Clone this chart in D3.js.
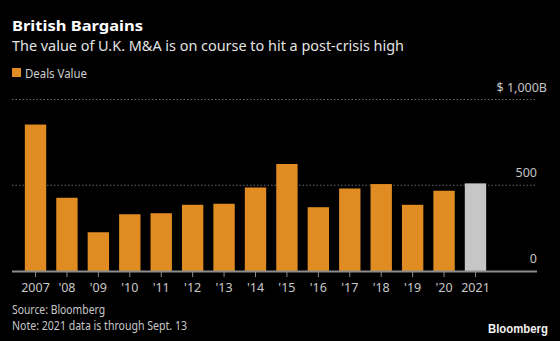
<!DOCTYPE html>
<html>
<head>
<meta charset="utf-8">
<script src="https://cdn.jsdelivr.net/npm/d3@7"></script>
<style>
  html, body { margin: 0; padding: 0; background: #000; }
  svg { display: block; font-family: "Noto Sans", "Open Sans", sans-serif; }
</style>
</head>
<body>
<div id="chart"></div>
<script>
const years = ["2007", "'08", "'09", "'10", "'11", "'12", "'13", "'14", "'15", "'16", "'17", "'18", "'19", "'20", "2021"];
const dealsValue = [854, 427, 226, 331, 337, 386, 392, 487, 624, 372, 481, 507, 386, 468, 511];
const yTicks = [0, 500, 1000];
const yTickLabels = ["0", "500", "$ 1,000B"];

const width = 560, height = 341;
const orange = "#e08c22", grey2021 = "#c6c6c6";

const svg = d3.select("#chart").append("svg")
  .attr("width", width).attr("height", height);

svg.append("rect").attr("width", width).attr("height", height).attr("fill", "#000");

// header
const fit = (sel, w) => sel.attr("textLength", w).attr("lengthAdjust", "spacingAndGlyphs");
svg.append("text").attr("x", 12).attr("y", 30.5)
  .attr("fill", "#fff").attr("font-weight", 700).attr("font-size", 15)
  .text("British Bargains").call(fit, 131);
svg.append("text").attr("x", 12).attr("y", 50.5)
  .attr("fill", "#e4e4e4").attr("font-size", 15)
  .text("The value of U.K. M&A is on course to hit a post-crisis high").call(fit, 392);

// legend
svg.append("rect").attr("x", 12).attr("y", 68).attr("width", 9).attr("height", 9).attr("fill", orange);
svg.append("text").attr("x", 25).attr("y", 77.5)
  .attr("fill", "#cfcfcf").attr("font-size", 13)
  .text("Deals Value").call(fit, 62);

const x = d3.scaleBand()
  .domain(years)
  .range([19.8, 491.2])
  .paddingInner(0.32)
  .paddingOuter(0.16);

const y = d3.scaleLinear().domain([0, 1000]).range([271, 99.5]);

// gridlines
svg.append("g").selectAll("line")
  .data(yTicks.filter((d) => d > 0))
  .join("line")
  .attr("x1", 12).attr("x2", 537)
  .attr("y1", (d) => y(d)).attr("y2", (d) => y(d))
  .attr("stroke", "#6a6a6a").attr("stroke-width", 1)
  .attr("stroke-dasharray", "1.5,2");

// y labels (unit suffix hangs past the axis end)
svg.append("g").selectAll("text")
  .data(yTicks)
  .join("text")
  .attr("x", (d) => (d === 1000 ? 547 : 537))
  .attr("y", (d) => y(d) - 8)
  .attr("text-anchor", "end")
  .attr("fill", "#c4c4c4").attr("font-size", 12.5)
  .text((d, i) => yTickLabels[i]);

// bars
svg.append("g").selectAll("rect")
  .data(dealsValue)
  .join("rect")
  .attr("x", (d, i) => x(years[i]))
  .attr("y", (d) => y(d))
  .attr("width", x.bandwidth())
  .attr("height", (d) => y(0) - y(d))
  .attr("fill", (d, i) => (years[i] === "2021" ? grey2021 : orange));

// x axis
svg.append("line")
  .attr("x1", 12).attr("x2", 537)
  .attr("y1", y(0) + 0.5).attr("y2", y(0) + 0.5)
  .attr("stroke", "#8c8c8c").attr("stroke-width", 2);

const xAxis = svg.append("g").attr("transform", `translate(0,${y(0) + 1})`)
  .call(d3.axisBottom(x).tickSize(5).tickPadding(6).tickSizeOuter(0));
xAxis.select(".domain").remove();
xAxis.selectAll(".tick line").attr("stroke", "#8c8c8c");
xAxis.selectAll(".tick text")
  .attr("fill", "#c8c8c8").attr("font-size", 12.5)
  .attr("font-family", "Noto Sans, sans-serif");

// footer
svg.append("text").attr("x", 12).attr("y", 314)
  .attr("fill", "#c8c8c8").attr("font-size", 12.5)
  .text("Source: Bloomberg").call(fit, 93);
svg.append("text").attr("x", 12).attr("y", 330)
  .attr("fill", "#c8c8c8").attr("font-size", 12.5)
  .text("Note: 2021 data is through Sept. 13").call(fit, 175);
svg.append("text").attr("x", 548).attr("y", 333)
  .attr("text-anchor", "end")
  .attr("fill", "#f2f2f2").attr("font-size", 12).attr("font-weight", 700)
  .attr("font-family", "Liberation Sans, Arial, sans-serif")
  .text("Bloomberg").call(fit, 60);
</script>
</body>
</html>
